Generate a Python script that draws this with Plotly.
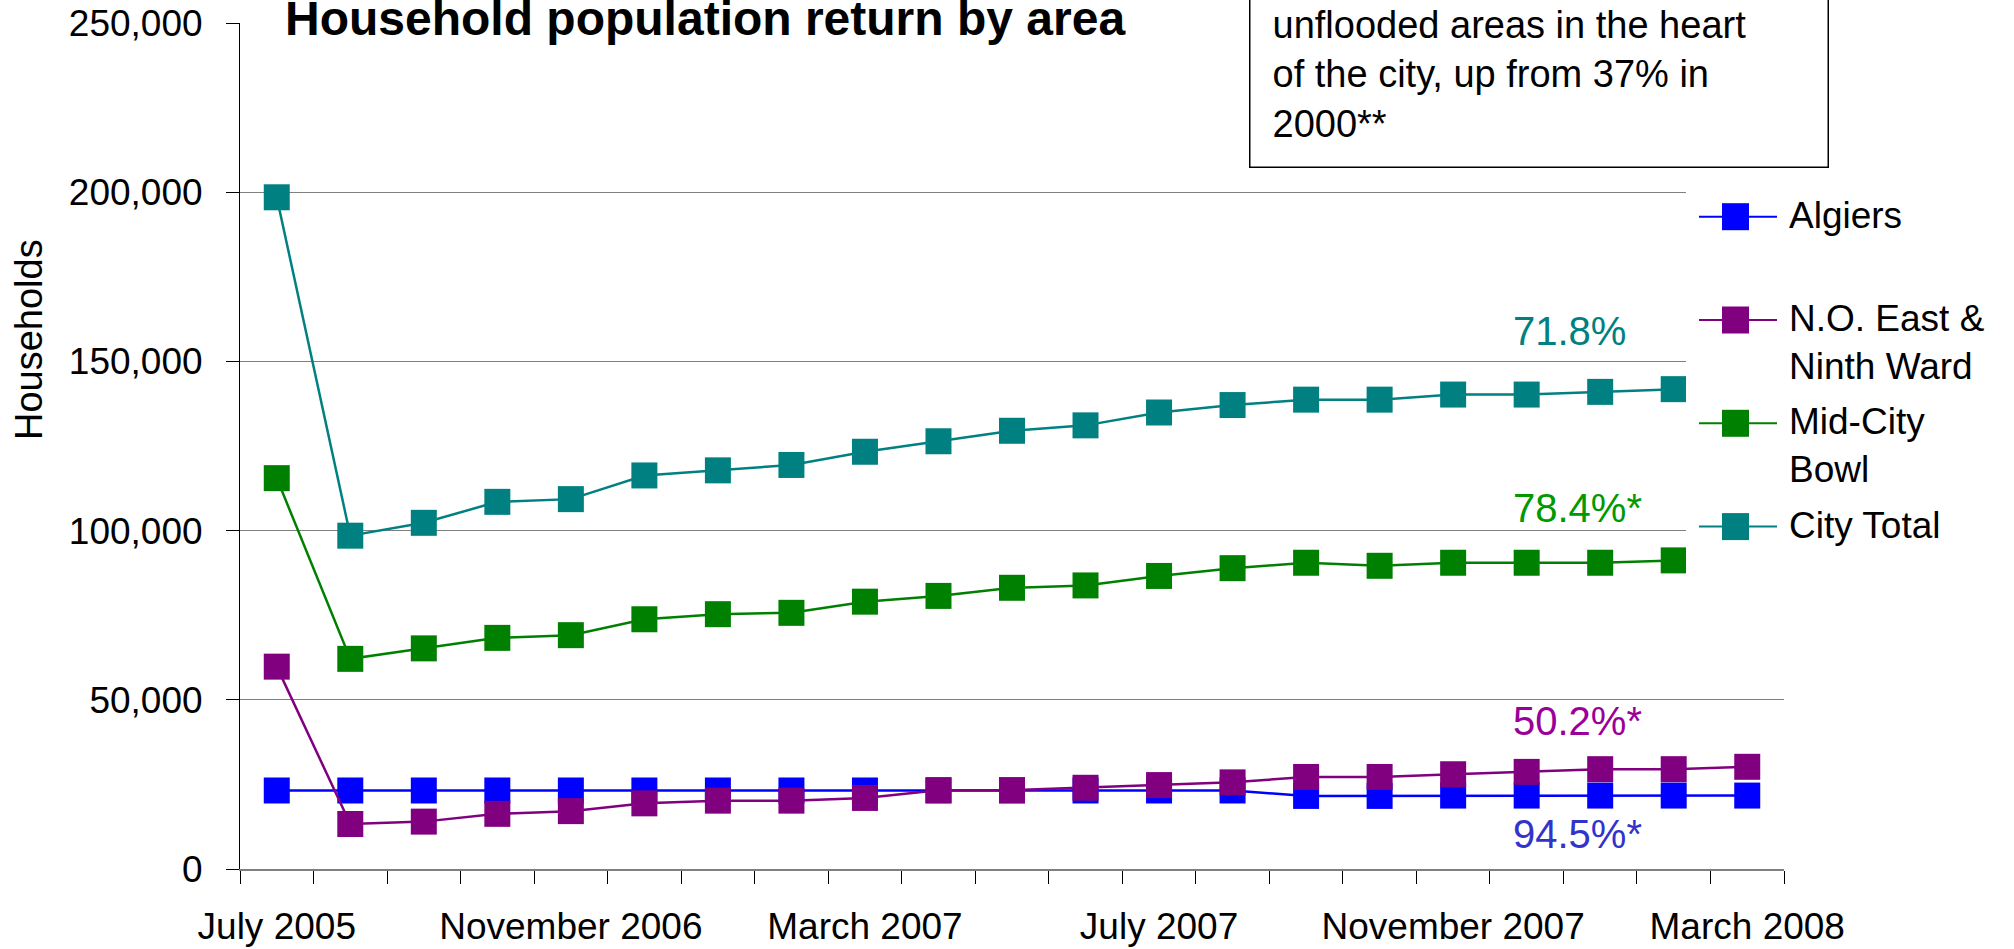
import plotly.graph_objects as go

# Survey periods (only every fourth one is labelled on the axis)
periods = ["July 2005", "June 2006", "August 2006", "October 2006", "November 2006",
           "December 2006", "January 2007", "February 2007", "March 2007", "April 2007",
           "May 2007", "June 2007", "July 2007", "August 2007", "September 2007",
           "October 2007", "November 2007", "December 2007", "January 2008",
           "February 2008", "March 2008"]

# Households actively receiving mail, by area
algiers = [23200, 23200, 23200, 23200, 23200, 23200, 23200, 23200, 23200, 23200, 23200,
           23200, 23200, 23200, 21600, 21600, 21700, 21700, 21700, 21700, 21700]
east_ninth = [59800, 13300, 14000, 16300, 17100, 19400, 20200, 20200, 21000, 23300, 23300,
              24000, 24800, 25600, 27200, 27200, 28000, 28700, 29500, 29500, 30200]
mid_city = [115500, 62100, 65200, 68300, 69100, 73800, 75300, 75700, 79000, 80700, 83100,
            83800, 86600, 88900, 90500, 89600, 90500, 90500, 90500, 91200, 91500]
city_total = [198500, 98500, 102300, 108500, 109300, 116300, 117800, 119400, 123300, 126400,
              129500, 131100, 134900, 137100, 138700, 138700, 140200, 140200, 141000, 141800,
              142500]

series_names = ["Algiers", "N.O. East &<br>Ninth Ward", "Mid-City<br>Bowl", "City Total"]
series_colors = ["#0000FF", "#800080", "#008000", "#008080"]
share_labels = ["94.5%*", "50.2%*", "78.4%*", "71.8%"]
share_colors = ["#3333CC", "#990099", "#009900", "#008080"]
box_lines = ["of the population lives in", "unflooded areas in the heart",
             "of the city, up from 37% in", "2000**"]

W, H = 2014, 949
M = dict(l=240, r=230, t=23, b=80)


def fx(px):
    return (px - M["l"]) / (W - M["l"] - M["r"])


def fy(py):
    return (H - M["b"] - py) / (H - M["t"] - M["b"])


x = list(range(len(periods)))
fig = go.Figure()
for name, values, color in zip(series_names, [algiers, east_ninth, mid_city, city_total],
                               series_colors):
    fig.add_trace(go.Scatter(x=x, y=values, name=name.replace("<br>", " "),
                             mode="lines+markers",
                             line=dict(color=color, width=2.5),
                             marker=dict(symbol="square", size=26, color=color),
                             showlegend=False))

# Excel-style legend: white panel over the right end of the plot, symbols and labels
shapes = [dict(type="rect", xref="paper", yref="paper", x0=fx(1686), x1=fx(2005),
               y0=fy(178), y1=fy(610), fillcolor="white", line_width=0, layer="above")]
annotations = []
for k, (name, color) in enumerate(zip(series_names, series_colors)):
    cy = 216.7 + 103.3 * k
    shapes.append(dict(type="line", xref="paper", yref="paper", x0=fx(1699), x1=fx(1777),
                       y0=fy(cy), y1=fy(cy), line=dict(color=color, width=2), layer="above"))
    shapes.append(dict(type="rect", xref="paper", yref="paper", x0=fx(1722), x1=fx(1749),
                       y0=fy(cy - 13.5), y1=fy(cy + 13.5), fillcolor=color, line_width=0,
                       layer="above"))
    annotations.append(dict(text=name, xref="paper", yref="paper", x=fx(1787), y=fy(cy - 24),
                            xanchor="left", yanchor="top", align="left", showarrow=False,
                            font=dict(size=37)))

for text, color, ypx in zip(share_labels, share_colors, [834, 721, 507.5, 331]):
    annotations.append(dict(text=text, xref="paper", yref="paper", x=fx(1511), y=fy(ypx),
                            xanchor="left", yanchor="middle", showarrow=False,
                            font=dict(size=40, color=color)))

# note box; its first line runs off the top of the figure
annotations.append(dict(text="<br>".join(box_lines), xref="paper", yref="paper",
                        x=fx(1249), y=fy(168.3), xanchor="left", yanchor="bottom",
                        align="left", width=533, borderpad=22,
                        bordercolor="black", borderwidth=1.5, bgcolor="white",
                        showarrow=False, font=dict(size=38)))

annotations.append(dict(text="Households", textangle=-90, xref="paper", yref="paper",
                        x=fx(29), y=fy(339), xanchor="center", yanchor="middle",
                        showarrow=False, font=dict(size=38)))

fig.update_layout(
    width=W, height=H, margin=dict(**M, pad=0),
    paper_bgcolor="white", plot_bgcolor="white",
    font=dict(family="Arial, 'Liberation Sans', sans-serif", size=37, color="black"),
    title=dict(text="<b>Household population return by area</b>", font=dict(size=48),
               xref="paper", x=fx(285), xanchor="left", y=1 - 18 / H, yanchor="middle"),
    showlegend=False, shapes=shapes, annotations=annotations)

fig.update_xaxes(range=[-0.5, len(periods) - 0.5], tickmode="array", tickvals=x[::4],
                 ticktext=periods[::4], ticks="", showgrid=False, zeroline=False,
                 showline=True, linecolor="#808080", linewidth=2, ticklabelstandoff=24,
                 automargin=False,
                 minor=dict(tickmode="array", tickvals=[i - 0.5 for i in range(len(periods) + 1)],
                            ticks="outside", ticklen=13, tickwidth=1, tickcolor="black",
                            showgrid=False))
fig.update_yaxes(range=[0, 250000], tickmode="linear", tick0=0, dtick=50000, tickformat=",",
                 ticks="outside", ticklen=13, tickcolor="black", showline=True,
                 linecolor="black", linewidth=1, showgrid=True, gridcolor="#808080",
                 gridwidth=1, zeroline=False, ticklabelstandoff=16, automargin=False)

# drop the browser's default page margin so the figure sits at the window's corner
fig.write_html("out.html", config={"displayModeBar": False},
               post_script="document.body.style.margin = '0';")
